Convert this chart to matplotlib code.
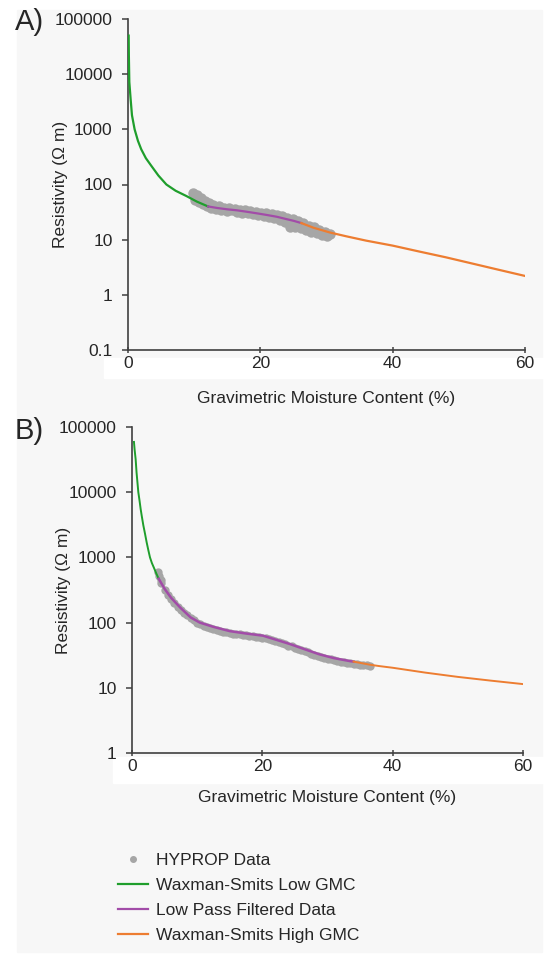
import matplotlib
matplotlib.use('Agg')
import matplotlib.pyplot as plt
import matplotlib.ticker as ticker
from matplotlib.lines import Line2D
from matplotlib.patches import Rectangle

plt.rcParams['font.family'] = ['Liberation Sans', 'DejaVu Sans']
plt.rcParams['font.size'] = 12.5
plt.rcParams['text.color'] = '#262626'
plt.rcParams['axes.labelcolor'] = '#262626'
plt.rcParams['xtick.color'] = '#404040'
plt.rcParams['ytick.color'] = '#404040'
plt.rcParams['xtick.labelcolor'] = '#262626'
plt.rcParams['ytick.labelcolor'] = '#262626'

GRAY = '#a6a6a6'
GREEN = '#1f9e2c'
PURPLE = '#a24ca8'
ORANGE = '#ed7d31'
BG = '#f7f7f7'

# ---- panel A ----
hyp_a_x = [9.8, 10.1, 10.4, 10.7, 11.0, 11.3, 11.6, 11.9, 12.2, 12.5, 12.9, 13.3, 13.7,
           14.1, 14.5, 14.9, 15.3, 15.7, 16.1, 16.5, 16.9, 17.3, 17.7, 18.1, 18.5, 18.9,
           19.3, 19.7, 20.1, 20.5, 20.9, 21.3, 21.7, 22.1, 22.5, 22.9, 23.3, 23.7, 24.1,
           24.5, 24.9, 25.3, 25.7, 26.1, 26.5, 26.9, 27.3, 27.7, 28.1, 28.5, 28.9, 29.3,
           29.7, 30.1, 30.5]
hyp_a_y = [70, 52, 64, 48, 56, 45, 50, 41, 46, 38, 42, 36, 40,
           35, 38, 33, 37, 34, 36, 32, 35, 31, 34, 30, 33, 29,
           32, 28, 31, 27, 30, 26, 29, 25, 28, 23, 27, 21, 25,
           17, 24, 17, 22, 16, 20, 15, 18, 14, 17, 13, 15, 12,
           14, 11.5, 12.5]

low_a_x = [0.1, 0.13, 0.2, 0.4, 0.6, 1.0, 1.5, 2.0, 2.7, 3.5, 4.6, 5.8, 7.2, 8.8, 10.4, 12.1]
low_a_y = [50000, 22000, 7200, 3500, 1800, 1000, 620, 435, 300, 220, 145, 100, 77, 62, 49, 40]

filt_a_x = [12.1, 13.5, 15.0, 16.5, 18.0, 19.5, 21.0, 22.5, 24.0, 25.0, 26.2]
filt_a_y = [40, 37.5, 35.5, 34, 32, 30, 28, 26, 23.5, 22, 20]

high_a_x = [26.2, 28, 30.5, 33, 36, 40, 44, 48, 52, 56, 60]
high_a_y = [20, 16.5, 13.5, 11.5, 9.6, 7.8, 6.1, 4.8, 3.7, 2.85, 2.2]

# ---- panel B ----
hyp_b_x = [4.0, 4.2, 4.4, 4.5, 5.0, 5.5, 6.0, 6.5, 7.0, 7.5, 8.0, 8.5, 9.0, 9.5, 10.0, 10.5, 11.0,
           11.5, 12.0, 12.5, 13.0, 13.5, 14.0, 14.5, 15.0, 15.5, 16.0, 16.5, 17.0, 17.5,
           18.0, 18.5, 19.0, 19.5, 20.0, 20.5, 21.0, 21.5, 22.0, 22.5, 23.0, 23.5, 24.0,
           24.5, 25.0, 25.5, 26.0, 26.5, 27.0, 27.5, 28.0, 28.5, 29.0, 29.5, 30.0, 30.5,
           31.0, 31.5, 32.0, 32.5, 33.0, 33.5, 34.0, 34.5, 35.0, 35.5, 36.0, 36.5]
hyp_b_y = [600, 520, 450, 410, 315, 268, 228, 198, 174, 157, 142, 129, 118, 108, 100, 94, 89,
           85, 82, 79, 77, 75, 73, 71, 70, 68, 67, 66, 65, 64,
           63, 62, 61, 60, 59, 57.5, 56, 54.5, 52.5, 50.5, 48.5, 46.5, 44.5,
           43, 41.5, 39.5, 38, 36.5, 35, 33.5, 32, 31, 30, 29, 28, 27.2,
           26.5, 25.8, 25.2, 24.7, 24.2, 23.8, 23.4, 23.0, 22.7, 22.4, 22.1, 21.8]

low_b_x = [0.3, 0.4, 0.56, 0.7, 0.97, 1.15, 1.33, 1.5, 1.74, 2.0, 2.25, 2.5, 2.76, 3.05,
           3.4, 3.75, 4.1]
low_b_y = [59000, 45000, 32000, 20000, 10000, 7500, 5500, 4300, 3100, 2300, 1700, 1300,
           1000, 820, 680, 560, 470]

filt_b_x = [4.1, 5.0, 6.0, 7.4, 9.0, 10.4, 12.5, 15.0, 17.5, 20.1, 22.0, 24.2, 26.5,
            28.8, 31.0, 33.5, 34.0]
filt_b_y = [470, 330, 240, 170, 120, 100, 86, 74, 68, 63, 55, 47, 39,
            32.5, 28.5, 25.6, 25.2]

high_b_x = [34.0, 36.5, 38, 40, 45, 50, 55, 60]
high_b_y = [25.2, 22.6, 21.5, 20.3, 17.1, 14.7, 12.9, 11.4]

xticks = [0, 20, 40, 60]


def styleAxis(ax, ymin, xpad, ylabx):
    ax.set_yscale('log')
    ax.set_xlim(0, 60)
    ax.set_ylim(ymin, 100000)
    ax.set_facecolor(BG)
    for s in ['top', 'right']:
        ax.spines[s].set_visible(False)
    for s in ['left', 'bottom']:
        ax.spines[s].set_color('#404040')
        ax.spines[s].set_linewidth(1.2)
    ax.set_xticks(xticks)
    ax.yaxis.set_major_locator(ticker.LogLocator(base=10, numticks=10))
    ax.yaxis.set_minor_locator(ticker.NullLocator())
    ax.yaxis.set_major_formatter(ticker.FuncFormatter(lambda v, p: '{:g}'.format(v)))
    ax.tick_params(axis='y', direction='out', length=4, width=1.1, pad=7)
    ax.tick_params(axis='x', direction='inout', length=5, width=1.1, pad=2)
    ax.set_xlabel('Gravimetric Moisture Content (%)', labelpad=xpad)
    ax.set_ylabel('Resistivity (\u03a9 m)')
    ax.yaxis.set_label_coords(ylabx, 0.5)


fig = plt.figure(figsize=(5.44, 9.56), dpi=100, facecolor='white')

# screenshot-like background panel and white strips behind the x tick labels
fig.patches.append(Rectangle((17 / 544, 1 - 952 / 956), 525 / 544, 942 / 956,
                             transform=fig.transFigure, color=BG, zorder=-10))
fig.patches.append(Rectangle((104 / 544, 1 - 378 / 956), 440 / 544, 20 / 956,
                             transform=fig.transFigure, color='white', zorder=-9))
fig.patches.append(Rectangle((113 / 544, 1 - 783 / 956), 431 / 544, 26 / 956,
                             transform=fig.transFigure, color='white', zorder=-9))

axA = fig.add_axes([128 / 544, 1 - 350 / 956, 397 / 544, 331 / 956])
axB = fig.add_axes([132 / 544, 1 - 753 / 956, 391 / 544, 326 / 956])

axA.plot(hyp_a_x, hyp_a_y, 'o', color=GRAY, markersize=7.5, markeredgewidth=0, zorder=2)
axA.plot(low_a_x, low_a_y, color=GREEN, linewidth=1.6, zorder=3)
axA.plot(filt_a_x, filt_a_y, color=PURPLE, linewidth=1.6, zorder=3)
axA.plot(high_a_x, high_a_y, color=ORANGE, linewidth=1.6, zorder=3)
styleAxis(axA, 0.1, 14, -0.151)

axB.plot(hyp_b_x, hyp_b_y, 'o', color=GRAY, markersize=6, markeredgewidth=0, zorder=2)
axB.plot(low_b_x, low_b_y, color=GREEN, linewidth=1.4, zorder=3)
axB.plot(filt_b_x, filt_b_y, color=PURPLE, linewidth=1.8, zorder=3)
axB.plot(high_b_x, high_b_y, color=ORANGE, linewidth=1.4, zorder=3)
styleAxis(axB, 1, 11.5, -0.156)

fig.text(15 / 544, 1 - 22 / 956, 'A)', fontsize=21, va='center', ha='left')
fig.text(15 / 544, 1 - 431 / 956, 'B)', fontsize=21, va='center', ha='left')

handles = [Line2D([], [], marker='o', linestyle='none', color=GRAY, markersize=4),
           Line2D([], [], color=GREEN, linewidth=1.6),
           Line2D([], [], color=PURPLE, linewidth=1.6),
           Line2D([], [], color=ORANGE, linewidth=1.6)]
labels = ['HYPROP Data', 'Waxman-Smits Low GMC', 'Low Pass Filtered Data', 'Waxman-Smits High GMC']
fig.legend(handles, labels, loc='upper left', bbox_to_anchor=(118 / 544, 1 - 853 / 956),
           frameon=False, handlelength=1.75, handletextpad=0.45, borderpad=0,
           borderaxespad=0, labelspacing=0.56, fontsize=12.5)

plt.savefig('out.png', dpi=100, facecolor='white')
